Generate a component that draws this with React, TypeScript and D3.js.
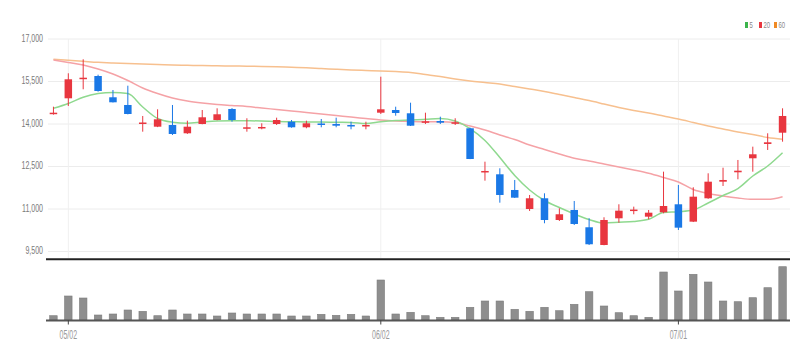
import React from 'react';
import * as d3 from 'd3';

const dates = ['04/29','05/02','05/03','05/04','05/06','05/09','05/10','05/11','05/12','05/13','05/16','05/17','05/18','05/19','05/20','05/23','05/24','05/25','05/26','05/27','05/30','05/31','06/02','06/03','06/07','06/08','06/09','06/10','06/13','06/14','06/15','06/16','06/17','06/20','06/21','06/22','06/23','06/24','06/27','06/28','06/29','06/30','07/01','07/04','07/05','07/06','07/07','07/08','07/11','07/12'];
const tickDates = ['05/02','06/02','07/01'];
const priceTicks = [9500, 11000, 12500, 14000, 15500, 17000];

const opens = [14353,14907,15599,15694,14943,14671,14035,13905,13965,13672,14000,14141,14530,13859,13880,14000,14081,13884,14018,14000,13965,13930,14399,14494,14378,14053,14106,14025,13849,12296,12225,11671,11000,11378,10612,10965,10355,9730,10672,10950,10729,10884,11166,10553,11378,11964,12296,12790,13295,13693];
const highs = [14611,15790,16284,15740,15200,15352,14283,14519,14671,14117,14494,14554,14560,14202,14025,14223,14141,14117,14177,14223,14081,14081,15670,14611,14752,14399,14258,14202,13870,12670,12437,12024,11495,11554,11025,11283,10672,10708,11166,11083,10965,12318,11848,11766,12260,12458,12730,13200,13672,14554];
const lows = [14330,14636,15225,15140,14760,14340,13729,13890,13612,13650,13990,14130,14081,13729,13813,13965,13870,13849,13884,13884,13813,13813,14353,14293,13930,14000,14000,13965,12760,12000,11223,11390,10930,10496,10577,10436,9730,9720,10517,10814,10637,10849,10259,10540,11360,11812,12049,12317,13083,13376];
const closes = [14399,15578,15634,15165,14766,14353,14053,14166,13647,13905,14237,14343,14141,13884,13895,14141,13884,14025,13965,13940,13930,13965,14519,14388,13940,14095,14046,14060,12765,12342,11495,11400,11378,10612,10814,10471,9755,10612,10941,10980,10870,11106,10341,11435,11964,12024,12352,12931,13354,14283];
const volumes = [43,240,220,50,60,100,87,43,100,60,60,40,70,60,60,60,40,40,57,47,57,40,400,60,77,43,27,27,127,190,190,107,87,127,93,157,283,140,73,43,27,480,290,457,380,190,183,223,323,533];

const ma5 = [14554,14724,14942,15073,15115,15073,14600,14194,14064,14028,14071,14106,14117,14113,14106,14088,14081,14071,14071,14060,14053,14018,14081,14124,14141,14166,14194,14106,13841,13418,12818,12182,11671,11300,11053,10824,10629,10506,10531,10559,10637,10873,10905,10965,11212,11476,11723,12165,12518,12987];
const ma20 = [16259,16171,16082,15941,15765,15535,15271,15076,14918,14812,14741,14688,14653,14618,14565,14512,14459,14406,14353,14300,14247,14194,14141,14106,14088,14081,14081,14053,13929,13788,13612,13453,13259,13100,12941,12789,12694,12588,12482,12376,12260,12112,11953,11688,11547,11459,11388,11342,11342,11434];
const ma60 = [16284,16248,16213,16178,16153,16132,16114,16100,16082,16072,16061,16054,16047,16040,16033,16019,16001,15984,15959,15931,15906,15888,15871,15849,15818,15747,15676,15588,15518,15465,15412,15324,15235,15147,15041,14935,14829,14706,14582,14476,14388,14282,14176,14053,13929,13824,13718,13629,13524,13460];

const legendItems = [
  { label: '5', color: '#3cb44b' },
  { label: '20', color: '#e8363f' },
  { label: '60', color: '#f08a24' },
];

const UP = '#e8363f';
const DOWN = '#1a78e6';

export default function App() {
  const W = 812, H = 360;
  const left = 46, right = 790;
  const x = d3.scaleBand<string>().domain(dates).range([left, right]).paddingInner(0).paddingOuter(0);
  const bw = x.bandwidth();
  const cx = (i: number) => (x(dates[i]) as number) + bw / 2;
  const y = d3.scaleLinear().domain([9500, 17000]).range([251.5, 39]);
  const vy = d3.scaleLinear().domain([0, 550]).range([320, 265]);

  const lineGen = (vals: number[]) =>
    d3.line<number>().x((_, i) => cx(i)).y((v) => y(v)).curve(d3.curveMonotoneX)(vals) || '';

  const bodyW = 7.5;
  const volW = 7.5;
  const fmt = d3.format(',');

  return (
    <svg width={W} height={H} style={{ position: 'absolute', left: 0, top: 0, background: '#fff' }}
      fontFamily="'Liberation Sans', Arial, sans-serif">
      {/* horizontal grid */}
      {priceTicks.map((t) => (
        <line key={'g' + t} x1={48} x2={right} y1={y(t)} y2={y(t)} stroke="#ececec" strokeWidth={1} />
      ))}
      {/* vertical grid */}
      {tickDates.map((d) => {
        const xx = (x(d) as number) + bw / 2;
        return <line key={'v' + d} x1={xx} x2={xx} y1={39} y2={258} stroke="#f0f0f0" strokeWidth={1} />;
      })}
      {/* y labels */}
      {priceTicks.map((t) => (
        <text key={'yl' + t} transform={`translate(43,${y(t)}) scale(0.64,1)`} textAnchor="end"
          dominantBaseline="middle" fontSize={11} fill="#7a7a7a">{fmt(t)}</text>
      ))}
      {/* MA lines */}
      <path d={lineGen(ma60)} fill="none" stroke="#f7c08f" strokeWidth={1.5} />
      <path d={lineGen(ma20)} fill="none" stroke="#f5a2a6" strokeWidth={1.5} />
      <path d={lineGen(ma5)} fill="none" stroke="#8fd98f" strokeWidth={1.5} />
      {/* candles */}
      {dates.map((d, i) => {
        const up = closes[i] >= opens[i];
        const col = up ? UP : DOWN;
        const top = y(Math.max(opens[i], closes[i]));
        const bot = y(Math.min(opens[i], closes[i]));
        const h = Math.max(bot - top, 1.5);
        const c = cx(i);
        return (
          <g key={'c' + d}>
            <line x1={c} x2={c} y1={y(highs[i])} y2={y(lows[i])} stroke={col} strokeWidth={1} />
            <rect x={c - bodyW / 2} y={top} width={bodyW} height={h} fill={col} />
          </g>
        );
      })}
      {/* separator */}
      <line x1={left} x2={right} y1={259.3} y2={259.3} stroke="#222" strokeWidth={2} />
      {/* volume */}
      {dates.map((d, i) => (
        <rect key={'vb' + d} x={cx(i) - volW / 2} y={vy(volumes[i])} width={volW}
          height={320 - vy(volumes[i])} fill="#8e8e8e" stroke="#7c7c7c" strokeWidth={0.6} />
      ))}
      <line x1={left} x2={right} y1={320.5} y2={320.5} stroke="#555" strokeWidth={1.8} />
      {tickDates.map((d) => {
        const xx = (x(d) as number) + bw / 2;
        return (
          <g key={'t' + d}>
            <line x1={xx} x2={xx} y1={320} y2={324.5} stroke="#444" strokeWidth={1} />
            <text transform={`translate(${xx},335.5) scale(0.56,1)`} textAnchor="middle" dominantBaseline="middle"
              fontSize={12.5} fill="#999">{d}</text>
          </g>
        );
      })}
      {/* legend */}
      {(() => {
        const xs = [745, 759, 774];
        return legendItems.map((it, k) => (
          <g key={'lg' + it.label}>
            <rect x={xs[k]} y={22} width={3} height={6} fill={it.color} />
            <text transform={`translate(${xs[k] + 4.5},25.3) scale(0.7,1)`} dominantBaseline="middle"
              fontSize={8.5} fill="#888">{it.label}</text>
          </g>
        ));
      })()}
    </svg>
  );
}
